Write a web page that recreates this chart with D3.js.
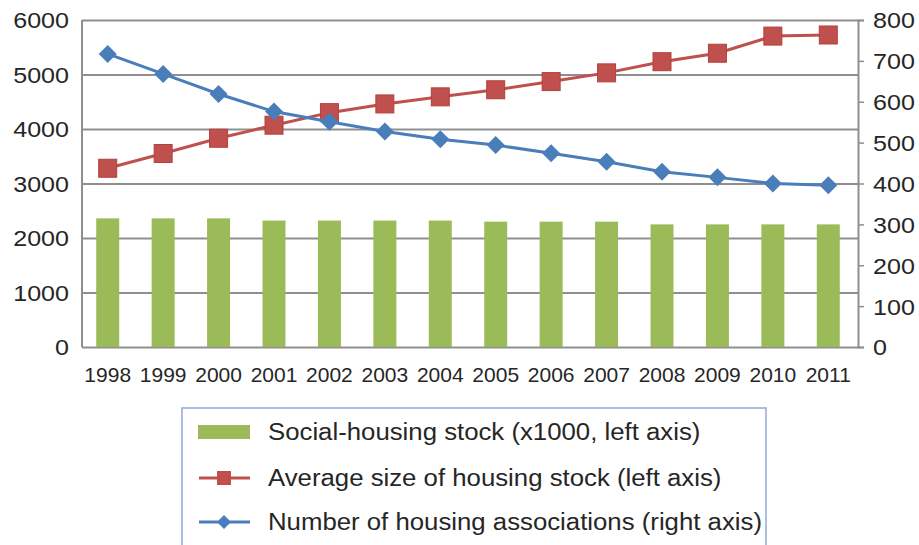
<!DOCTYPE html>
<html>
<head>
<meta charset="utf-8">
<script src="https://cdn.jsdelivr.net/npm/d3@7"></script>
<style>
  body { margin: 0; background: #fff; }
  svg { display: block; font-family: "Liberation Sans", Arial, sans-serif; }
  .grid line { stroke: #8f8f8f; stroke-width: 2; }
  .grid path { display: none; }
  .tick text { fill: #262626; }
</style>
</head>
<body>
<svg id="chart" width="919" height="545"></svg>
<script>
// données
var years = [1998, 1999, 2000, 2001, 2002, 2003, 2004, 2005, 2006, 2007, 2008, 2009, 2010, 2011];
var socialStock = [2360, 2360, 2360, 2320, 2320, 2320, 2320, 2300, 2300, 2300, 2250, 2250, 2250, 2250];
var avgSize = [3280, 3550, 3830, 4070, 4300, 4460, 4590, 4720, 4870, 5030, 5235, 5390, 5705, 5725];
var associations = [717, 668, 619, 576, 551, 527, 508, 494, 474, 453, 429, 415, 400, 396];
var leftTicks = [0, 1000, 2000, 3000, 4000, 5000, 6000];
var rightTicks = [0, 100, 200, 300, 400, 500, 600, 700, 800];
var legendLabels = [
    "Social-housing stock (x1000, left axis)",
    "Average size of housing stock (left axis)",
    "Number of housing associations (right axis)"
];

var green = "#9bbb59", red = "#c0504d", blue = "#4a7ebb";
var plot = { left: 82, right: 858, top: 20, bottom: 347 };

var svg = d3.select("#chart");

var x = d3.scaleBand().domain(years).range([80, 856]);
var yL = d3.scaleLinear().domain([0, 6000]).range([plot.bottom, plot.top]);
var yR = d3.scaleLinear().domain([0, 800]).range([plot.bottom, plot.top]);
var cx = d => x(d) + x.bandwidth() / 2;

// étire un peu le texte horizontalement, comme sur l'image
function stretch(sel, k) {
    sel.each(function () {
        var w = this.getComputedTextLength();
        d3.select(this).attr("textLength", w * k).attr("lengthAdjust", "spacingAndGlyphs");
    });
}

// grille + axe gauche
var gLeft = svg.append("g")
    .attr("class", "grid")
    .attr("transform", "translate(" + plot.left + ",0)")
    .call(d3.axisLeft(yL).tickValues(leftTicks).tickSize(-(plot.right - plot.left)).tickPadding(13).tickFormat(d3.format("d")));
gLeft.selectAll("text").style("font-size", "22px").attr("dy", "0.36em");
stretch(gLeft.selectAll("text"), 1.14);

// ligne d'axe gauche
svg.append("line")
    .attr("x1", plot.left).attr("x2", plot.left)
    .attr("y1", plot.top).attr("y2", plot.bottom)
    .attr("stroke", "#8f8f8f").attr("stroke-width", 2);

// axe droit
var gRight = svg.append("g")
    .attr("transform", "translate(" + plot.right + ",0)")
    .call(d3.axisRight(yR).tickValues(rightTicks).tickSize(6).tickPadding(9).tickFormat(d3.format("d")));
gRight.select(".domain").attr("stroke", "#8f8f8f").attr("stroke-width", 2);
gRight.selectAll(".tick line").attr("stroke", "#8f8f8f").attr("stroke-width", 1.5);
gRight.selectAll("text").style("font-size", "22px").attr("dy", "0.36em");
stretch(gRight.selectAll("text"), 1.14);

// barres
svg.append("g").selectAll("rect")
    .data(years)
    .enter().append("rect")
    .attr("x", d => cx(d) - 11.5)
    .attr("width", 23)
    .attr("y", (d, i) => yL(socialStock[i]))
    .attr("height", (d, i) => plot.bottom - yL(socialStock[i]))
    .attr("fill", green);

// ligne rouge
var redLine = d3.line().x(d => cx(d)).y((d, i) => yL(avgSize[i]));
svg.append("path")
    .datum(years)
    .attr("d", redLine)
    .attr("fill", "none").attr("stroke", red).attr("stroke-width", 3);
svg.append("g").selectAll("rect")
    .data(years)
    .enter().append("rect")
    .attr("x", d => cx(d) - 9)
    .attr("y", (d, i) => yL(avgSize[i]) - 9)
    .attr("width", 18).attr("height", 18)
    .attr("fill", red).attr("stroke", "#b3403d").attr("stroke-width", 1);

// ligne bleue
var blueLine = d3.line().x(d => cx(d)).y((d, i) => yR(associations[i]));
svg.append("path")
    .datum(years)
    .attr("d", blueLine)
    .attr("fill", "none").attr("stroke", blue).attr("stroke-width", 3);
var diamond = d3.symbol().type(d3.symbolDiamond2).size(170);
svg.append("g").selectAll("path")
    .data(years)
    .enter().append("path")
    .attr("transform", (d, i) => "translate(" + cx(d) + "," + yR(associations[i]) + ") rotate(0)")
    .attr("d", "M0,-9L9,0L0,9L-9,0Z")
    .attr("fill", blue);

// étiquettes des années
svg.append("g").selectAll("text")
    .data(years)
    .enter().append("text")
    .attr("x", d => cx(d))
    .attr("y", 382)
    .attr("text-anchor", "middle")
    .style("font-size", "21px")
    .attr("fill", "#262626")
    .text(d => d);

// légende
var lg = svg.append("g");
lg.append("rect")
    .attr("x", 182).attr("y", 408)
    .attr("width", 584).attr("height", 160)
    .attr("fill", "#fff").attr("stroke", "#8fabd6").attr("stroke-width", 1.5);

var rowY = [432, 478, 522];
lg.append("rect").attr("x", 198).attr("y", rowY[0] - 7).attr("width", 52).attr("height", 14).attr("fill", green);
lg.append("line").attr("x1", 199).attr("x2", 250).attr("y1", rowY[1]).attr("y2", rowY[1]).attr("stroke", red).attr("stroke-width", 3);
lg.append("rect").attr("x", 217).attr("y", rowY[1] - 7).attr("width", 14).attr("height", 14).attr("fill", red);
lg.append("line").attr("x1", 199).attr("x2", 250).attr("y1", rowY[2]).attr("y2", rowY[2]).attr("stroke", blue).attr("stroke-width", 3);
lg.append("path").attr("transform", "translate(224," + rowY[2] + ")").attr("d", "M0,-7L7,0L0,7L-7,0Z").attr("fill", blue);

var lt = lg.selectAll("text.leg")
    .data(legendLabels)
    .enter().append("text")
    .attr("class", "leg")
    .attr("x", 268)
    .attr("y", (d, i) => rowY[i])
    .attr("dy", "0.36em")
    .style("font-size", "23px")
    .attr("fill", "#262626")
    .text(d => d);
stretch(lt, 1.12);
</script>
</body>
</html>
